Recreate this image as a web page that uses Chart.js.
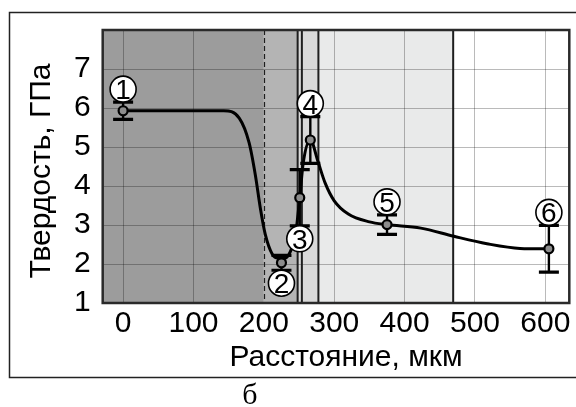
<!DOCTYPE html>
<html>
<head>
<meta charset="utf-8">
<script src="https://cdn.jsdelivr.net/npm/chart.js@4.4.1/dist/chart.umd.min.js"></script>
<style>
  html, body { margin: 0; padding: 0; background: #fff; }
  canvas { display: block; }
</style>
</head>
<body>
<canvas id="c" width="576" height="407"></canvas>
<script>
// Measured hardness at six positions across the joint
const distances   = [0, 225, 251, 266, 375, 605];
const hardness    = [5.93, 2.03, 3.70, 5.18, 3.01, 2.39];
const hardnessErr = [0.22, 0.19, 0.72, 0.60, 0.25, 0.60];
const pointNames  = ['1', '2', '3', '4', '5', '6'];

// Trend curve of the hardness profile
const curveX = [0, 60, 143, 165, 179, 188, 195, 202, 212, 220, 230, 240, 245, 251, 256, 266, 277, 287, 300, 320, 350, 375, 423, 470, 517, 564, 605];
const curveY = [5.93, 5.93, 5.93, 5.74, 5.11, 4.27, 3.43, 2.76, 2.25, 2.15, 2.15, 2.42, 2.76, 3.70, 4.60, 5.18, 4.62, 4.08, 3.62, 3.28, 3.08, 3.01, 2.92, 2.71, 2.52, 2.40, 2.39];

// Structural zones along the distance axis
const zoneEdges = [200, 248, 277.5, 469];
const solidBoundaries = [248, 254, 277.5, 469];
const dashedBoundaries = [200];

// Axis ticks and titles
const xTicks = [0, 100, 200, 300, 400, 500, 600];
const yTicks = [1, 2, 3, 4, 5, 6, 7];
const xTitle = 'Расстояние, мкм';
const yTitle = 'Твердость, ГПа';
const panelLetter = 'б';

// Styling
const zoneFills = ['#9c9c9c', '#b4b4b4', '#d9d9d9', '#e9eaea', '#ffffff'];
const labelSide = ['up', 'down', 'down', 'up', 'up', 'up'];
const FONT = "'Liberation Sans', Arial, sans-serif";

const profilePlugin = {
  id: 'profile',
  beforeDraw(chart) {
    const { ctx, chartArea: a, scales: { x } } = chart;
    const edges = [x.min, ...zoneEdges, x.max];
    ctx.save();
    for (let i = 0; i < zoneFills.length; i++) {
      const l = x.getPixelForValue(edges[i]);
      const r = x.getPixelForValue(edges[i + 1]);
      ctx.fillStyle = zoneFills[i];
      ctx.fillRect(l, a.top, r - l, a.bottom - a.top);
    }
    ctx.restore();
  },
  beforeDatasetsDraw(chart) {
    const { ctx, chartArea: a, scales: { x, y } } = chart;
    ctx.save();
    // zone boundaries
    ctx.strokeStyle = '#1e1e1e';
    ctx.lineWidth = 1.2;
    ctx.setLineDash([5, 3]);
    dashedBoundaries.forEach(v => {
      const px = Math.round(x.getPixelForValue(v)) + 0.5;
      ctx.beginPath(); ctx.moveTo(px, a.top); ctx.lineTo(px, a.bottom); ctx.stroke();
    });
    ctx.setLineDash([]);
    ctx.lineWidth = 2;
    solidBoundaries.forEach(v => {
      const px = x.getPixelForValue(v);
      ctx.beginPath(); ctx.moveTo(px, a.top); ctx.lineTo(px, a.bottom); ctx.stroke();
    });
    // plot frame
    ctx.strokeStyle = '#2a2a2a';
    ctx.lineWidth = 2.5;
    ctx.strokeRect(a.left, a.top, a.right - a.left, a.bottom - a.top);
    // error bars
    ctx.strokeStyle = '#000';
    distances.forEach((d, i) => {
      const px = x.getPixelForValue(d);
      const top = y.getPixelForValue(hardness[i] + hardnessErr[i]);
      const bot = y.getPixelForValue(hardness[i] - hardnessErr[i]);
      ctx.lineWidth = 2.4;
      ctx.beginPath(); ctx.moveTo(px, top); ctx.lineTo(px, bot); ctx.stroke();
      ctx.lineWidth = 3.2;
      ctx.beginPath();
      ctx.moveTo(px - 10, top); ctx.lineTo(px + 10, top);
      ctx.moveTo(px - 10, bot); ctx.lineTo(px + 10, bot);
      ctx.stroke();
    });
    ctx.restore();
  },
  afterDatasetsDraw(chart) {
    const { ctx, scales: { x, y } } = chart;
    ctx.save();
    distances.forEach((d, i) => {
      const px = x.getPixelForValue(d);
      const up = labelSide[i] === 'up';
      const cap = y.getPixelForValue(hardness[i] + (up ? hardnessErr[i] : -hardnessErr[i]));
      const cy = cap + (up ? -13 : 13);
      ctx.beginPath();
      ctx.arc(px, cy, 13, 0, Math.PI * 2);
      ctx.fillStyle = '#fff';
      ctx.fill();
      ctx.lineWidth = 1.6;
      ctx.strokeStyle = '#000';
      ctx.stroke();
      ctx.fillStyle = '#000';
      ctx.font = '28px ' + FONT;
      ctx.textAlign = 'center';
      ctx.textBaseline = 'alphabetic';
      ctx.fillText(pointNames[i], px, cy + 10);
    });
    ctx.restore();
  },
  afterDraw(chart) {
    const { ctx } = chart;
    ctx.save();
    // outer frame of the panel
    ctx.strokeStyle = '#222';
    ctx.lineWidth = 1.5;
    ctx.strokeRect(9.5, 12.5, 580, 365);
    ctx.fillStyle = '#000';
    // axis titles
    ctx.font = '30px ' + FONT;
    ctx.textAlign = 'center';
    ctx.textBaseline = 'alphabetic';
    ctx.fillText(xTitle, 346, 366);
    ctx.save();
    ctx.translate(50, 171);
    ctx.rotate(-Math.PI / 2);
    ctx.fillText(yTitle, 0, 0);
    ctx.restore();
    // panel letter
    ctx.font = "30px 'Liberation Serif', 'Times New Roman', serif";
    ctx.fillText(panelLetter, 250, 404);
    ctx.restore();
  }
};

const gridColor = 'rgba(0,0,0,0.27)';

new Chart(document.getElementById('c'), {
  type: 'line',
  data: {
    datasets: [
      {
        label: 'Твердость',
        data: distances.map((d, i) => ({ x: d, y: hardness[i] })),
        showLine: false,
        pointRadius: 4.5,
        pointBorderWidth: 2.2,
        pointBackgroundColor: '#8c8c8c',
        pointBorderColor: '#000',
        order: 0
      },
      {
        label: 'Профиль',
        data: curveX.map((v, i) => ({ x: v, y: curveY[i] })),
        borderColor: '#000',
        borderWidth: 3,
        pointRadius: 0,
        cubicInterpolationMode: 'monotone',
        fill: false,
        order: 1
      }
    ]
  },
  options: {
    responsive: false,
    devicePixelRatio: 1,
    animation: false,
    layout: { padding: { top: 24, right: 2.7, left: 0, bottom: 0 } },
    plugins: { legend: { display: false }, tooltip: { enabled: false } },
    scales: {
      x: {
        type: 'linear',
        min: -29,
        max: 634,
        afterBuildTicks: s => { s.ticks = xTicks.map(v => ({ value: v })); },
        afterFit: s => { s.height = 104; },
        grid: {
          color: c => (c.tick && c.tick.value === 200) ? 'rgba(0,0,0,0)' : gridColor,
          lineWidth: 1,
          drawTicks: false
        },
        border: { display: false },
        ticks: { color: '#000', font: { family: FONT, size: 30 }, padding: 3, maxRotation: 0, autoSkip: false },
        title: { display: false }
      },
      y: {
        type: 'linear',
        min: 1,
        max: 8,
        afterBuildTicks: s => { s.ticks = yTicks.map(v => ({ value: v })); },
        afterFit: s => { s.width = 102.7; },
        grid: { color: gridColor, lineWidth: 1, drawTicks: false },
        border: { display: false },
        ticks: { color: '#000', font: { family: FONT, size: 30 }, padding: 12 },
        title: { display: false }
      }
    }
  },
  plugins: [profilePlugin]
});
</script>
</body>
</html>
